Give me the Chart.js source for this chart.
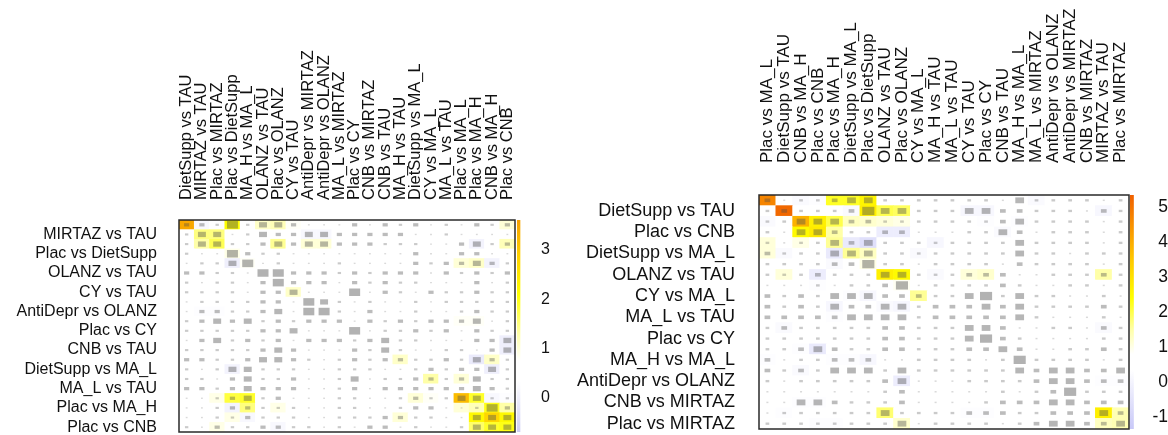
<!DOCTYPE html>
<html>
<head>
<meta charset="utf-8">
<script src="https://cdn.jsdelivr.net/npm/chart.js@4.4.1/dist/chart.umd.min.js"></script>
<style>
  html, body { margin: 0; padding: 0; background: #fff; }
  #wrap { position: relative; width: 1168px; height: 435px; overflow: hidden; }
  canvas { position: absolute; top: 0; }
</style>
</head>
<body>
<div id="wrap">
  <canvas id="hmA" width="516" height="435" style="left:0px;width:516px;height:435px"></canvas>
  <canvas id="cbA" width="40" height="435" style="left:510px;width:40px;height:435px"></canvas>
  <canvas id="hmB" width="570" height="435" style="left:560px;width:570px;height:435px"></canvas>
  <canvas id="cbB" width="48" height="435" style="left:1120px;width:48px;height:435px"></canvas>
</div>
<script>
// ---------- data: left matrix ----------
const contrastsA = ['DietSupp vs TAU','MIRTAZ vs TAU','Plac vs MIRTAZ','Plac vs DietSupp','MA_H vs MA_L','OLANZ vs TAU','Plac vs OLANZ','CY vs TAU','AntiDepr vs MIRTAZ','AntiDepr vs OLANZ','MA_L vs MIRTAZ','Plac vs CY','CNB vs MIRTAZ','CNB vs TAU','MA_H vs TAU','DietSupp vs MA_L','CY vs MA_L','MA_L vs TAU','Plac vs MA_L','Plac vs MA_H','CNB vs MA_H','Plac vs CNB'];

const valuesA = [
  [3.5,0.2,0.5,2.1,0.5,1.1,1.2,0.8,0.5,0.5,0.5,0.5,0.5,0.5,0.5,0.5,0.5,0.5,0.5,0.5,0.5,1.0],
  [0.5,1.5,1.5,0.5,0.5,0.6,0.5,0.5,0.2,0.2,0.5,0.5,0.5,0.5,0.5,0.5,0.5,0.5,0.5,0.5,0.5,0.5],
  [0.5,1.3,1.7,0.5,0.5,0.6,1.4,0.5,1.0,1.0,0.5,0.5,0.5,0.5,0.5,0.5,0.5,0.5,0.5,0.1,0.5,1.2],
  [0.5,0.5,0.5,0.9,0.5,0.5,0.5,0.5,0.5,0.5,0.5,0.5,0.5,0.5,0.5,0.5,0.5,0.5,0.5,0.5,0.5,0.5],
  [0.5,0.5,0.5,0.0,0.8,0.5,0.5,0.5,0.5,0.5,0.5,0.5,0.5,0.5,0.5,0.5,0.5,0.5,1.0,1.1,0.1,0.5],
  [0.5,0.5,0.5,0.5,0.5,0.6,0.6,0.5,0.5,0.5,0.5,0.5,0.5,0.5,0.5,0.5,0.5,0.5,0.5,0.5,0.5,0.5],
  [0.5,0.5,0.5,0.5,0.5,0.5,0.6,0.5,0.5,0.5,0.5,0.5,0.5,0.5,0.5,0.5,0.5,0.5,0.5,0.5,0.5,0.5],
  [0.5,0.5,0.5,0.5,0.5,0.5,0.5,1.1,0.5,0.5,0.5,0.6,0.5,0.5,0.5,0.5,0.5,0.5,0.5,0.5,0.5,0.5],
  [0.5,0.5,0.5,0.5,0.5,0.5,0.5,0.5,0.6,0.5,0.5,0.5,0.5,0.5,0.5,0.5,0.5,0.5,0.5,0.5,0.5,0.5],
  [0.5,0.3,0.3,0.5,0.5,0.5,0.5,0.5,0.5,0.6,0.5,0.5,0.5,0.5,0.5,0.5,0.5,0.5,0.5,0.5,0.5,0.5],
  [0.5,0.5,0.5,0.5,0.5,0.5,0.5,0.5,0.5,0.5,0.5,0.5,0.5,0.5,0.5,0.5,0.5,0.5,0.8,0.8,0.5,0.5],
  [0.5,0.5,0.5,0.5,0.5,0.5,0.5,0.5,0.5,0.5,0.5,0.6,0.5,0.5,0.5,0.5,0.5,0.5,0.5,0.5,0.5,0.5],
  [0.5,0.5,0.5,0.5,0.5,0.5,0.5,0.5,0.5,0.5,0.5,0.5,0.5,0.5,0.5,0.5,0.5,0.5,0.5,0.5,0.5,0.0],
  [0.5,0.5,0.5,0.5,0.5,0.5,0.5,0.5,0.5,0.5,0.5,0.5,0.5,0.5,0.5,0.5,0.5,0.5,0.5,0.5,0.5,0.0],
  [0.5,0.5,0.5,0.5,0.5,0.5,0.5,0.5,0.5,0.5,0.5,0.5,0.5,0.5,1.1,0.5,0.5,0.5,0.5,-0.1,1.1,0.5],
  [0.5,0.5,0.5,0.1,0.5,0.5,0.5,0.5,0.5,0.5,0.5,0.5,0.5,0.5,0.5,0.5,0.5,0.5,0.5,0.4,0.0,0.5],
  [0.5,0.5,0.5,0.5,0.5,0.5,0.5,0.5,0.5,0.5,0.5,0.5,0.5,0.5,0.5,0.5,1.3,0.5,1.0,0.5,0.5,0.5],
  [0.5,0.5,0.5,0.5,0.5,0.5,0.5,0.5,0.5,0.5,0.5,0.5,0.5,0.5,0.5,0.5,0.5,0.5,0.5,0.5,0.5,0.5],
  [0.5,0.5,0.9,1.8,1.9,0.5,0.5,0.5,0.5,0.5,0.5,0.5,0.5,0.5,0.5,1.0,0.8,0.5,3.2,1.9,0.2,0.3],
  [0.5,0.5,0.5,0.1,1.5,0.5,0.9,0.5,0.5,0.5,0.5,0.5,0.5,0.5,0.5,0.5,0.5,0.5,1.0,1.2,2.0,1.3],
  [0.5,0.5,0.5,0.9,0.2,0.5,0.5,0.5,0.5,0.5,0.5,0.5,0.5,0.5,1.0,0.5,0.5,0.5,0.5,2.2,2.8,2.2],
  [0.5,0.5,0.9,0.5,0.5,0.5,0.2,0.5,0.5,0.5,0.5,0.5,0.5,0.5,0.5,0.5,0.5,0.5,0.5,1.6,1.9,2.0]
];

// grey marker size class per cell (0 = smallest ... 4 = largest)
const sizesA = [
  [2,2,1,4,1,3,3,2,0,0,0,2,0,2,1,2,0,1,0,2,1,2],
  [1,3,3,0,1,3,2,2,3,3,2,2,2,2,2,0,0,1,0,0,0,0],
  [1,3,3,1,1,2,3,2,3,3,2,2,2,1,1,1,0,0,2,3,1,2],
  [1,0,0,4,2,1,1,0,0,0,0,0,0,0,0,2,0,0,2,2,0,0],
  [0,1,1,3,4,0,1,0,0,0,1,0,0,0,0,2,1,2,2,3,2,1],
  [2,2,1,1,0,4,4,2,2,2,1,2,1,2,2,2,0,2,1,2,1,2],
  [1,0,1,1,0,2,4,2,2,2,0,2,1,2,1,1,0,0,0,2,0,1],
  [1,1,1,1,0,2,2,3,0,0,0,4,0,2,1,0,2,1,1,2,1,1],
  [0,1,1,1,1,2,2,0,4,3,1,0,1,0,0,1,0,1,1,1,1,1],
  [0,2,2,1,1,2,3,0,4,4,1,0,2,0,0,1,0,0,1,2,1,1],
  [1,2,3,2,3,1,2,1,2,2,2,0,2,1,2,1,2,2,2,3,0,1],
  [1,1,1,1,1,2,2,3,0,0,0,4,0,1,1,2,1,2,0,2,1,1],
  [0,2,3,1,2,1,2,0,2,2,2,1,2,3,1,1,0,0,0,2,2,3],
  [1,1,1,1,1,2,3,2,0,0,0,2,1,3,1,0,0,1,1,0,2,3],
  [2,2,1,1,2,3,3,2,1,0,1,2,1,2,2,1,1,2,1,3,2,1],
  [1,0,1,3,3,1,1,1,0,0,1,1,1,0,0,1,2,1,2,2,3,1],
  [1,1,0,2,3,1,1,2,0,0,1,3,0,1,1,2,2,1,2,3,1,1],
  [2,2,1,2,3,2,2,2,0,0,1,2,0,2,2,2,2,2,2,3,2,1],
  [0,0,1,2,3,1,2,0,0,0,1,1,0,0,1,2,1,1,3,3,1,1],
  [0,0,1,2,2,1,1,1,0,0,1,1,0,0,1,2,2,0,0,1,4,2],
  [0,0,1,1,2,1,1,1,0,0,1,1,1,2,2,1,1,0,0,3,3,3],
  [1,0,2,1,1,2,2,1,1,0,1,0,2,2,0,1,0,0,1,3,3,3]
];

const scaleRangeA = [-0.69, 3.61];
const scaleTicksA = [0, 1, 2, 3];

// ---------- data: right matrix ----------
const contrastsB = ['Plac vs MA_L','DietSupp vs TAU','CNB vs MA_H','Plac vs CNB','Plac vs MA_H','DietSupp vs MA_L','Plac vs DietSupp','OLANZ vs TAU','Plac vs OLANZ','CY vs MA_L','MA_H vs TAU','MA_L vs TAU','CY vs TAU','Plac vs CY','CNB vs TAU','MA_H vs MA_L','MA_L vs MIRTAZ','AntiDepr vs OLANZ','AntiDepr vs MIRTAZ','CNB vs MIRTAZ','MIRTAZ vs TAU','Plac vs MIRTAZ'];

const valuesB = [
  [4.7,0.5,0.2,0.3,2.2,2.2,2.6,0.5,0.5,0.5,0.5,0.5,0.5,0.5,0.5,0.5,0.2,0.5,0.5,0.5,0.5,0.5],
  [0.5,5.2,0.5,0.5,0.5,0.2,2.7,2.0,1.9,0.5,0.5,0.5,0.1,0.1,0.5,0.5,0.5,0.5,0.5,0.5,0.1,0.5],
  [0.2,0.5,3.9,2.7,2.0,1.3,1.2,1.1,1.0,0.5,0.5,0.5,0.5,0.3,0.5,0.3,0.5,0.5,0.5,0.5,0.5,0.5],
  [0.5,0.5,2.5,2.8,1.5,0.5,0.5,-0.2,-0.2,0.5,0.5,0.5,0.5,0.5,0.2,0.5,0.5,0.5,0.5,0.5,0.5,0.5],
  [1.1,0.5,1.0,0.5,1.6,-0.3,-0.6,0.5,0.5,0.5,0.1,0.5,0.5,0.5,0.5,0.5,0.5,0.5,0.5,0.5,0.5,0.5],
  [1.1,0.2,0.5,0.5,-0.3,1.6,1.3,0.5,0.5,0.2,0.5,0.5,0.5,0.5,0.5,0.5,0.5,0.5,0.5,0.5,0.5,0.5],
  [0.5,0.5,0.5,0.5,0.2,0.5,1.0,0.5,0.5,0.5,0.5,0.5,0.5,0.5,0.5,0.5,0.5,0.5,0.5,0.5,0.5,0.5],
  [0.5,1.1,0.5,-0.2,0.5,0.5,0.5,2.7,2.5,0.5,0.2,0.5,1.1,1.2,0.5,0.5,0.5,0.5,0.5,0.5,1.5,0.5],
  [0.5,0.5,0.5,0.3,0.5,0.5,0.5,0.5,0.9,0.5,0.5,0.5,0.5,0.5,0.5,0.5,0.5,0.5,0.5,0.5,0.5,0.5],
  [0.5,0.5,0.5,0.5,0.5,0.3,0.1,0.5,0.5,1.6,0.5,0.5,0.5,0.5,0.5,0.5,0.5,0.5,0.5,0.5,0.5,0.5],
  [0.5,0.5,0.5,0.5,0.1,0.5,0.5,0.2,0.1,0.5,0.5,0.5,0.5,0.5,0.5,0.5,0.5,0.5,0.5,0.5,0.5,0.5],
  [0.5,0.5,0.5,0.5,0.3,0.5,0.5,0.5,0.5,0.5,0.5,0.5,0.5,0.5,0.5,0.5,0.5,0.5,0.5,0.5,0.5,0.5],
  [0.5,0.2,0.5,0.5,0.5,0.5,0.5,0.5,0.5,0.5,0.5,0.5,0.5,0.5,0.5,0.5,0.5,0.5,0.5,0.5,0.2,0.5],
  [0.5,0.5,0.5,0.5,0.5,0.5,0.5,0.5,0.5,0.5,0.5,0.5,0.5,0.5,0.5,0.5,0.5,0.5,0.5,0.5,0.5,0.5],
  [0.5,0.5,0.3,-0.3,0.5,0.5,0.5,0.5,0.5,0.5,0.5,0.5,0.5,0.5,0.5,0.5,0.5,0.5,0.5,0.5,0.5,0.5],
  [0.3,0.5,0.5,0.5,0.3,0.3,0.1,0.5,0.5,0.5,0.5,0.5,0.5,0.5,0.5,0.5,0.5,0.5,0.5,0.5,0.5,0.5],
  [0.5,0.5,0.2,0.5,0.5,0.5,0.5,0.5,0.5,0.5,0.5,0.5,0.5,0.5,0.5,0.5,0.5,0.5,0.5,0.5,0.5,0.5],
  [0.5,0.5,0.5,0.5,0.5,0.5,0.5,0.5,-0.2,0.5,0.5,0.5,0.5,0.5,0.5,0.5,0.5,0.5,0.5,0.5,0.3,0.3],
  [0.5,0.5,0.5,0.5,0.5,0.5,0.5,0.5,0.5,0.5,0.5,0.5,0.5,0.5,0.5,0.5,0.5,0.5,0.5,0.5,0.5,0.5],
  [0.5,0.5,0.3,0.3,0.5,0.5,0.5,0.5,0.5,0.5,0.5,0.5,0.5,0.5,0.5,0.5,0.5,0.5,0.5,0.5,0.5,0.5],
  [0.5,0.3,0.5,0.5,0.5,0.5,0.5,1.8,0.5,0.5,0.5,0.5,0.3,0.3,0.5,0.5,0.5,0.5,0.5,0.5,2.7,1.4],
  [0.5,0.5,0.5,0.3,0.3,0.5,0.5,0.5,1.2,0.5,0.5,0.5,0.5,0.5,0.5,0.5,0.5,0.5,0.5,0.5,1.3,1.4]
];

const sizesB = [
  [2,0,1,1,2,3,3,1,1,1,1,1,1,1,0,3,1,1,1,1,0,1],
  [1,2,1,1,1,2,4,3,3,1,1,1,3,3,2,2,1,1,1,0,2,1],
  [1,1,3,3,3,2,2,1,1,1,1,1,1,1,2,3,1,1,1,1,0,1],
  [1,0,3,3,2,1,1,2,2,0,0,0,1,1,3,2,0,1,1,1,0,1],
  [1,0,1,1,3,2,3,1,1,1,1,1,1,1,1,3,1,1,1,1,0,1],
  [2,1,1,1,3,3,3,1,1,1,1,1,1,1,1,3,1,1,0,1,1,1],
  [1,1,1,1,2,2,4,1,1,0,1,1,1,1,0,2,1,1,1,1,0,1],
  [1,1,1,2,1,1,1,3,3,1,1,1,2,2,2,0,0,1,1,1,2,1],
  [0,0,0,1,0,1,1,2,4,0,1,1,1,1,2,1,0,0,1,1,0,1],
  [2,1,2,1,3,3,3,2,2,2,1,1,3,4,1,3,1,1,0,0,1,0],
  [2,1,2,1,3,2,2,3,3,1,2,2,2,3,2,3,1,1,1,1,2,1],
  [2,2,2,2,2,3,3,3,3,1,2,2,2,2,2,3,1,0,0,0,1,0],
  [1,2,1,1,1,1,1,2,2,1,1,1,3,3,2,0,0,1,1,0,2,1],
  [1,1,1,1,1,1,1,2,2,1,1,1,3,4,2,1,0,0,0,0,1,1],
  [1,1,2,3,2,1,1,2,2,1,1,1,2,2,3,2,0,0,1,1,2,1],
  [2,0,1,1,2,2,2,0,0,1,1,1,1,0,1,4,1,1,1,1,0,1],
  [2,1,2,1,3,3,3,1,3,1,1,1,1,1,1,3,2,3,3,2,2,3],
  [1,0,1,1,1,1,1,2,3,0,0,0,1,1,1,1,2,3,3,2,2,2],
  [0,0,0,0,0,0,0,1,2,0,0,0,0,0,1,0,1,2,4,1,1,1],
  [0,0,3,3,2,1,1,1,2,0,0,0,0,1,2,2,2,3,3,2,2,2],
  [0,1,1,1,1,1,1,3,1,1,1,1,2,2,2,1,1,2,2,2,3,2],
  [1,1,1,1,1,1,1,1,3,0,1,1,1,1,0,1,2,3,3,2,2,3]
];

const scaleRangeB = [-1.34, 5.34];
const scaleTicksB = [-1, 0, 1, 2, 3, 4, 5];

// ---------- styling ----------
const FONT = "'Liberation Sans', Arial, sans-serif";
const TEXT = '#111';
// marker size classes, as fractions of a cell (width, height) and their shade
const MARK_W = [0.12, 0.22, 0.34, 0.52, 0.72];
const MARK_H = [0.14, 0.22, 0.34, 0.55, 0.78];
const MARK_ALPHA = [0.22, 0.3, 0.38, 0.42, 0.44];

// colour scale stops: [value, colour]
const stopsA = [[-0.69,'#cfcff5'],[0.35,'#ffffff'],[0.75,'#ffffff'],[1.3,'#ffffa8'],[2.1,'#ffff00'],[2.9,'#ffd000'],[3.61,'#f5a000']];
const stopsB = [[-1.34,'#c8c8f8'],[0.35,'#ffffff'],[0.8,'#ffffff'],[1.5,'#ffffa8'],[2.4,'#ffff00'],[3.5,'#ffc800'],[4.5,'#f89000'],[5.34,'#f06000']];

function hexRgb(h) {
  return [parseInt(h.slice(1,3),16), parseInt(h.slice(3,5),16), parseInt(h.slice(5,7),16)];
}
function colorAt(stops, v) {
  if (v <= stops[0][0]) return stops[0][1];
  for (let i = 1; i < stops.length; i++) {
    if (v <= stops[i][0]) {
      const t = (v - stops[i-1][0]) / (stops[i][0] - stops[i-1][0]);
      const a = hexRgb(stops[i-1][1]), b = hexRgb(stops[i][1]);
      const c = a.map((x, k) => Math.round(x + (b[k] - x) * t));
      return `rgb(${c[0]},${c[1]},${c[2]})`;
    }
  }
  return stops[stops.length-1][1];
}

// outline around the plotting area
const framePlugin = {
  id: 'frame',
  afterDatasetsDraw(chart) {
    const { ctx, chartArea: a } = chart;
    ctx.save();
    ctx.strokeStyle = '#2a2a2a';
    ctx.lineWidth = 1.5;
    ctx.strokeRect(a.left, a.top, a.right - a.left, a.bottom - a.top);
    ctx.restore();
  }
};

function heatmap(id, o) {
  const labels = o.labels;
  const cells = [];
  const marks = MARK_W.map(() => []);
  o.values.forEach((row, r) => row.forEach((v, c) => {
    cells.push({ x: labels[c], y: [r - 0.5, r + 0.5], v });
    const k = o.sizes[r][c];
    const h = MARK_H[k] / 2;
    marks[k].push({ x: labels[c], y: [r - h, r + h] });
  }));

  const datasets = [{
    data: cells,
    backgroundColor: c => (c.raw ? colorAt(o.stops, c.raw.v) : '#fff'),
    barPercentage: 1, categoryPercentage: 1, grouped: false, borderWidth: 0, order: 10
  }];
  marks.forEach((m, k) => datasets.push({
    data: m,
    backgroundColor: `rgba(80,80,80,${MARK_ALPHA[k]})`,
    barPercentage: MARK_W[k], categoryPercentage: 1, grouped: false, borderWidth: 0, order: 0
  }));

  return new Chart(document.getElementById(id), {
    type: 'bar',
    data: { labels, datasets },
    plugins: [framePlugin],
    options: {
      responsive: false, animation: false, devicePixelRatio: 1, events: [],
      layout: { padding: o.padding },
      plugins: { legend: { display: false }, tooltip: { enabled: false } },
      scales: {
        x: {
          type: 'category', position: 'top', offset: true,
          grid: { display: false, drawTicks: false }, border: { display: false },
          ticks: { autoSkip: false, minRotation: 90, maxRotation: 90, padding: o.xPad,
                   labelOffset: o.xFont * 1.2,
                   color: TEXT, font: { family: FONT, size: o.xFont } },
          afterFit: s => { s.height = o.xHeight; s.paddingLeft = 0; s.paddingRight = 0; }
        },
        y: {
          type: 'linear', min: -0.5, max: labels.length - 0.5, reverse: true,
          grid: { display: false, drawTicks: false }, border: { display: false },
          afterBuildTicks: s => { s.ticks = labels.map((_, i) => ({ value: i })).filter(t => t.value % 2 === 1); },
          ticks: { autoSkip: false, padding: o.yPad, color: TEXT,
                   font: { family: FONT, size: o.yFont }, callback: v => labels[v] },
          afterFit: s => { s.width = o.yWidth; s.paddingTop = 0; s.paddingBottom = 0; }
        }
      }
    }
  });
}

function colorbar(id, o) {
  const [lo, hi] = o.range;
  return new Chart(document.getElementById(id), {
    type: 'bar',
    data: {
      labels: [''],
      datasets: [{
        data: [[lo, hi]],
        backgroundColor: c => {
          const ch = c.chart, y = ch.scales.y;
          if (!ch.chartArea || !y) return '#fff';
          const g = ch.ctx.createLinearGradient(0, y.getPixelForValue(lo), 0, y.getPixelForValue(hi));
          o.stops.forEach(([v, col]) => g.addColorStop((v - lo) / (hi - lo), col));
          return g;
        },
        barPercentage: 1, categoryPercentage: 1, borderWidth: 0
      }]
    },
    options: {
      responsive: false, animation: false, devicePixelRatio: 1, events: [],
      layout: { padding: o.padding },
      plugins: { legend: { display: false }, tooltip: { enabled: false } },
      scales: {
        x: { display: false, offset: false },
        y: {
          position: 'right', min: lo, max: hi,
          grid: { display: false, drawTicks: false }, border: { display: false },
          afterBuildTicks: s => { s.ticks = o.ticks.map(v => ({ value: v })); },
          ticks: { padding: o.pad, crossAlign: 'far', color: TEXT, font: { family: FONT, size: o.font } },
          afterFit: s => { s.width = o.axisWidth; s.paddingTop = 0; s.paddingBottom = 0; }
        }
      }
    }
  });
}

heatmap('hmA', {
  labels: contrastsA, values: valuesA, sizes: sizesA, stops: stopsA,
  xFont: 16.5, yFont: 16, xPad: 20, yPad: 22, xHeight: 220, yWidth: 179,
  padding: { left: 0, right: 1, top: 0, bottom: 3 }
});
colorbar('cbA', {
  range: scaleRangeA, ticks: scaleTicksA, stops: stopsA, font: 16, pad: 18,
  axisWidth: 27, padding: { left: 7, right: 0, top: 220, bottom: 3 }
});
heatmap('hmB', {
  labels: contrastsB, values: valuesB, sizes: sizesB, stops: stopsB,
  xFont: 17, yFont: 18, xPad: 32, yPad: 24, xHeight: 195, yWidth: 199,
  padding: { left: 0, right: 1, top: 0, bottom: 6 }
});
colorbar('cbB', {
  range: scaleRangeB, ticks: scaleTicksB, stops: stopsB, font: 17.5, pad: 13,
  axisWidth: 31, padding: { left: 10, right: 0, top: 195, bottom: 6 }
});
</script>
</body>
</html>
